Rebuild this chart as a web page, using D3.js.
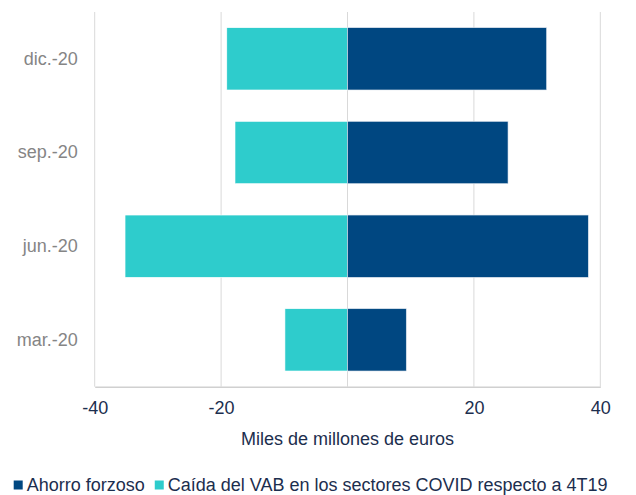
<!DOCTYPE html>
<html>
<head>
<meta charset="utf-8">
<script src="https://cdn.jsdelivr.net/npm/d3@7"></script>
<style>
  body { margin: 0; background: #fff; }
  text { font-family: "Liberation Sans", Arial, sans-serif; }
</style>
</head>
<body>
<div id="chart"></div>
<script>
// Datos del gráfico
var periodos = ["dic.-20", "sep.-20", "jun.-20", "mar.-20"];
var ahorroForzoso = [31.5, 25.4, 38.1, 9.3];
var caidaVAB = [-19.1, -17.8, -35.2, -9.9];
var series = ["Ahorro forzoso", "Caída del VAB en los sectores COVID respecto a 4T19"];
var ticksX = [-40, -20, 20, 40];
var gridX = [-40, -20, 0, 20, 40];
var tituloX = "Miles de millones de euros";

var colores = ["#004781", "#2ECCCC"];

var W = 636, H = 495;
var margin = {top: 12, right: 35.7, bottom: 108.3, left: 94.7},
    width = W - margin.left - margin.right,
    height = H - margin.top - margin.bottom;

var svg = d3.select("#chart").append("svg")
    .attr("width", W)
    .attr("height", H);

var g = svg.append("g")
    .attr("transform", "translate(" + margin.left + "," + margin.top + ")");

var x = d3.scaleLinear().domain([-40, 40]).range([0, width]);
var y = d3.scaleBand().domain(periodos).range([0, height])
    .paddingInner(0.335).paddingOuter(0.1675);

// rejilla vertical
g.selectAll(".grid")
  .data(gridX)
  .enter().append("line")
  .attr("x1", d => x(d)).attr("x2", d => x(d))
  .attr("y1", 0).attr("y2", height)
  .attr("stroke", "#d9d9d9")
  .attr("stroke-width", 1);

// barras de caída del VAB
g.selectAll(".caida")
  .data(periodos)
  .enter().append("rect")
  .attr("x", (d, i) => x(Math.min(0, caidaVAB[i])))
  .attr("y", d => y(d))
  .attr("width", (d, i) => Math.abs(x(caidaVAB[i]) - x(0)))
  .attr("height", y.bandwidth())
  .attr("fill", colores[1])
  .attr("stroke", "#ffffff")
  .attr("stroke-width", 0.6);

// barras de ahorro forzoso
g.selectAll(".ahorro")
  .data(periodos)
  .enter().append("rect")
  .attr("x", (d, i) => x(Math.min(0, ahorroForzoso[i])))
  .attr("y", d => y(d))
  .attr("width", (d, i) => Math.abs(x(ahorroForzoso[i]) - x(0)))
  .attr("height", y.bandwidth())
  .attr("fill", colores[0])
  .attr("stroke", "#dfe6ee")
  .attr("stroke-width", 0.6);

// eje X (guion normal, como en el original)
var ejeX = g.append("g")
  .attr("transform", "translate(0," + height + ")")
  .call(d3.axisBottom(x).tickValues(ticksX).tickSize(0).tickPadding(14.5)
        .tickFormat(d => String(d)));
ejeX.select(".domain").attr("stroke", "#d0d0d0").attr("stroke-width", 1.5);
ejeX.selectAll("text")
  .style("font-size", "18px")
  .style("font-family", '"Liberation Sans", Arial, sans-serif')
  .attr("fill", "#1c2e4e");

// eje Y
var ejeY = g.append("g")
  .call(d3.axisLeft(y).tickSize(0).tickPadding(17));
ejeY.select(".domain").remove();
ejeY.selectAll("text")
  .style("font-size", "18px")
  .style("font-family", '"Liberation Sans", Arial, sans-serif')
  .attr("fill", "#858585");

// título del eje X
svg.append("text")
  .attr("x", margin.left + x(0))
  .attr("y", 445)
  .attr("text-anchor", "middle")
  .style("font-size", "18px")
  .attr("fill", "#1c2e4e")
  .text(tituloX);

// leyenda
var lx = 13.7;
series.forEach(function(s, i) {
  svg.append("rect")
    .attr("x", lx).attr("y", 480.5)
    .attr("width", 9).attr("height", 9)
    .attr("fill", colores[i]);
  var t = svg.append("text")
    .attr("x", lx + 13)
    .attr("y", 491)
    .style("font-size", "18px")
    .attr("fill", "#1c2e4e")
    .text(s);
  lx = lx + 13 + t.node().getComputedTextLength() + 10;
});
</script>
</body>
</html>
